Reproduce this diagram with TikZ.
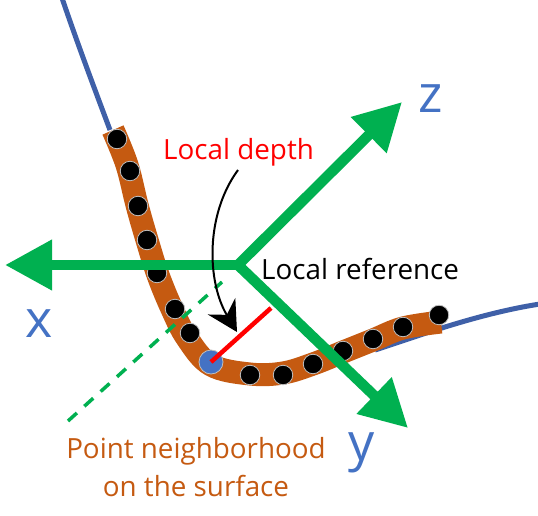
\documentclass[tikz,border=0pt]{standalone}
\usepackage{fontspec}
\setmainfont{Open Sans}
\usetikzlibrary{arrows.meta}
\definecolor{gr}{HTML}{00B050}
\definecolor{br}{HTML}{C55A11}
\definecolor{bl}{HTML}{4472C4}
\definecolor{dbl}{HTML}{3F60A8}
\tikzset{
  gline/.style={draw=gr,line width=10.5pt,-{Triangle[length=47pt,width=48pt]}},
  dot/.style={circle,fill=black,draw=black!25,line width=0.8pt,minimum size=19.5pt,inner sep=0pt},
  lbl/.style={inner sep=0pt,font=\fontsize{27.8}{32}\selectfont},
  axl/.style={inner sep=0pt,text=bl,font=\fontsize{52}{60}\selectfont}
}
\begin{document}
\begin{tikzpicture}[x=1pt,y=-1pt]
\useasboundingbox (0,0) rectangle (538,516);
% surface
\draw[dbl,line width=5pt] (62,-2) .. controls (78,45) and (95,90) .. (110,130);
\draw[dbl,line width=5pt] (375,350) .. controls (410,339) and (475,314) .. (540,304);
\draw[br,line width=23pt] plot[smooth,tension=0.6] coordinates {(113,130) (127,165) (137,205) (147,240) (158,275) (172,309) (187,338) (211,365) (250,374) (283,373) (313,364) (343,352) (373,340) (403,328) (441,322)};
% neighbourhood points
\node[dot] (p1) at (117,139) {};
\node[dot] (p2) at (130,171) {};
\node[dot] (p3) at (138,206) {};
\node[dot] (p4) at (147,240) {};
\node[dot] (p5) at (157,273) {};
\node[dot] (p6) at (175,309) {};
\node[dot] (p7) at (190,333) {};
\node[dot] (p8) at (250,375) {};
\node[dot] (p9) at (283,375) {};
\node[dot] (p10) at (313,364) {};
\node[dot] (p11) at (343,351) {};
\node[dot] (p12) at (373,339) {};
\node[dot] (p13) at (403,327) {};
\node[dot] (p14) at (439,315) {};
\node[circle,fill=bl,draw=black!25,line width=0.8pt,minimum size=24pt,inner sep=0pt] (q) at (211,362) {};
% axes
\coordinate (o) at (238,265);
\coordinate (xt) at (5,265);
\coordinate (yt) at (408,428);
\coordinate (zt) at (402,102);
\coordinate (d) at (271,308);
\coordinate (ds) at (68,421);
\coordinate (de) at (222,282);
\draw[red,line width=4.5pt] (q.center) -- (d);
\draw[gr,line width=3.5pt,dash pattern=on 12pt off 10pt] (ds) -- (de);
\draw[gline] (o) -- (zt);
\draw[gline] (o) -- (yt);
\draw[gline] (o) -- (xt);
% labels
\node[lbl,text=red,anchor=base west] (ld) at (163,159) {Local depth};
\node[lbl,text=black,anchor=base west] (lr) at (261,279) {Local reference};
\node[lbl,text=br,anchor=base] (pn1) at (196,458) {Point neighborhood};
\node[lbl,text=br,anchor=base] (pn2) at (196,496) {on the surface};
\node[axl,anchor=base] (zl) at (431,113) {z};
\node[axl,anchor=base] (xl) at (39,337) {x};
\node[axl,anchor=base] (yl) at (362,460) {y};
% arrow from label
\coordinate (a1) at (238,170);
\coordinate (a2) at (237,332);
\draw[black,line width=2pt,-{Stealth[length=30pt,width=32pt,inset=10pt]}] (a1) .. controls (205,215) and (207,282) .. (a2);
\end{tikzpicture}
\end{document}
